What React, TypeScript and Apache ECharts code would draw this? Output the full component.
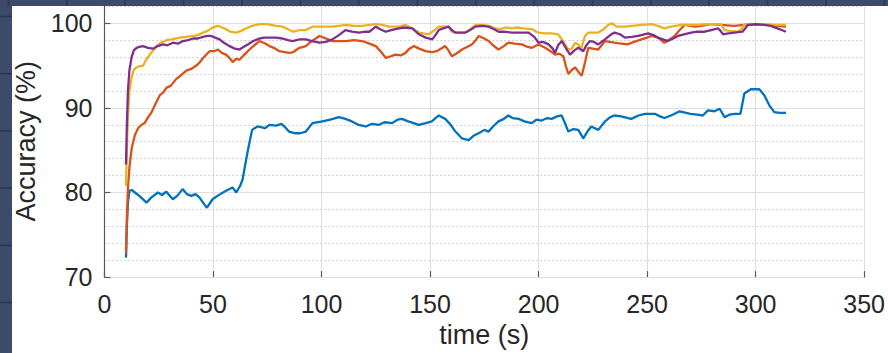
import React, { useEffect, useRef } from "react";
import * as echarts from "echarts";

// ---- data (time in s, accuracy in %) ----
const blueSeries: [number, number][] = [
  [9.9,72.3],[10.3,76],[10.8,78.8],[11.5,80.2],[12.5,80.3],[14,80],[16,79.6],[19.4,78.8],[21.5,79.4],[24.6,80.0],[26.5,79.7],[28.5,80.1],[31.5,79.2],[33.5,79.6],[36,80.4],[38,79.8],[40,79.6],[42,79.8],[43.8,79.4],[46,78.6],[47.2,78.2],[49.8,79.2],[52,79.6],[56,80.2],[59,80.6],[60.7,80.0],[62.5,80.8],[63.6,81.5],[65,83.5],[66,84.9],[68,87.4],[70.5,87.8],[74,87.6],[76,88.0],[79,87.9],[81.5,88.1],[82.9,87.8],[85,87.2],[88,87.0],[90,87.0],[92.8,87.2],[95.8,88.2],[100.4,88.4],[104,88.6],[108,88.9],[111,88.7],[114,88.4],[117,88.0],[120.4,87.8],[123,88.1],[126.5,88.0],[129,88.3],[132.5,88.2],[135,88.6],[137,88.7],[140,88.4],[144.8,88.0],[148,88.2],[150.8,88.4],[154,89.1],[157,88.7],[159.5,88.0],[161.7,87.2],[164.6,86.4],[167.8,86.2],[170,86.7],[172.4,87.0],[175,87.4],[177,87.2],[179,87.8],[181.5,88.4],[184,88.7],[186,89.1],[188,88.8],[190.8,88.7],[193.5,88.4],[196.8,88.2],[199,88.6],[201.4,88.5],[204,88.8],[206,88.7],[208.5,89.0],[210.6,89.1],[212,88.3],[213.7,87.2],[216,87.5],[218.3,87.4],[220.6,86.4],[222.5,87.2],[224.3,87.8],[227.5,87.4],[230.6,88.4],[233,88.9],[235,89.1],[238,89.0],[242.7,88.7],[246,89.1],[249,89.3],[253.5,89.3],[256,89.0],[258,88.8],[261,89.1],[265,89.6],[268,89.4],[270,89.3],[273,89.2],[275.7,89.1],[278,89.7],[281,89.6],[283.4,89.9],[285.7,88.9],[288,89.2],[290.3,89.3],[293,89.3],[294.8,91.7],[297.8,92.2],[301.7,92.2],[304,91.5],[306.3,90.3],[308.6,89.5],[311,89.4],[314,89.4]
];

const orangeSeries: [number, number][] = [
  [9.9,72.8],[10.3,77],[10.8,80.5],[11.5,83],[12.5,85.2],[14,86.8],[15.5,87.6],[17.1,88.0],[18.5,88.2],[20.1,88.9],[21.5,89.4],[23.2,90.3],[24.5,91.0],[25.5,91.5],[27,91.8],[28.6,92.4],[30.5,92.6],[33,93.4],[35,93.8],[37.7,94.4],[40,94.6],[42.3,95.0],[44,95.4],[45.4,95.9],[48.4,96.7],[50.5,96.7],[52.3,96.9],[54,96.5],[56,96.3],[58,95.8],[59.1,95.4],[60.5,95.8],[62.2,95.7],[64.5,96.3],[66.8,96.9],[69,97.4],[71.4,97.9],[74,97.6],[76,97.3],[78,97.1],[80.6,96.7],[83,96.6],[85.2,96.5],[87,96.6],[89.8,97.1],[92.8,97.3],[95,97.8],[99,98.5],[102,98.2],[105,97.9],[108,97.9],[111,97.9],[115,98.0],[118.7,97.9],[122,97.6],[125,97.3],[127.5,96.6],[129.6,95.9],[132,96.1],[134,96.3],[136.5,96.2],[138.7,96.5],[140.5,97.0],[142.6,97.3],[145,97.0],[148,96.7],[151,96.6],[153,96.7],[155,97.0],[157,97.3],[158.5,96.8],[160,96.1],[162,96.4],[164.7,96.9],[167,97.2],[169.3,97.5],[171,98.0],[172.4,98.5],[175,98.2],[177,97.9],[179,97.4],[181.5,96.9],[184,97.3],[186,97.7],[189,97.6],[192.3,97.5],[195,97.2],[196.9,97.1],[200,97.5],[203,97.1],[205.5,96.7],[207.6,96.3],[209.5,96.4],[211.4,96.1],[212.5,95.0],[213.7,94.0],[215,94.4],[216.8,94.8],[218.5,94.2],[219.9,93.8],[221.5,95.5],[222.9,97.1],[225,97.0],[227.5,96.9],[230.6,97.9],[235,97.7],[238,97.6],[241,97.5],[244,97.8],[247.4,98.1],[250,98.3],[252,98.5],[255,98.3],[258,97.7],[260.5,98.1],[262.7,98.5],[265,99.2],[267.3,99.8],[270,99.7],[271.9,99.6],[275,99.7],[279.5,99.9],[284,99.8],[290,99.7],[295,99.8],[300,99.8],[305,99.8],[310,99.7],[314,99.6]
];

const yellowSeries: [number, number][] = [
  [9.9,80.8],[10.3,85],[10.8,89],[11.5,92],[12.5,93.6],[13.5,94.5],[14.8,94.8],[16,94.9],[17.8,95.0],[19,95.6],[20.9,96.3],[22.5,96.8],[24,97.3],[26,97.7],[28.6,98.0],[31,98.1],[34.7,98.3],[37.5,98.4],[40.8,98.5],[43,98.6],[45.4,98.9],[47.5,99.1],[49.2,99.4],[51,99.6],[52.3,99.7],[54,99.5],[56,99.3],[58,99.0],[60.7,98.9],[63,99.1],[65.3,99.4],[68,99.7],[71.4,99.9],[75,99.9],[79,99.7],[82,99.6],[85.2,99.2],[87,99.0],[89.8,99.2],[92.8,99.2],[95.8,99.6],[100,99.6],[105,99.6],[108,99.7],[111,99.8],[115,99.7],[118.7,99.7],[122,99.8],[125,99.9],[128,99.8],[131,99.6],[135.7,99.6],[138.7,99.8],[141.7,99.4],[144.8,98.9],[147,98.8],[149.5,98.7],[152,99.2],[154,99.6],[156,99.6],[158.6,99.6],[160,99.0],[161.5,98.9],[164,98.9],[166.3,98.9],[168.5,99.3],[170.9,99.8],[174,99.8],[177,99.7],[180,99.4],[182,99.3],[185,99.5],[187.7,99.4],[190,99.5],[193,99.4],[197,99.3],[199,99.0],[200,98.9],[203,98.8],[206,98.8],[209,98.7],[210.7,98.1],[212.5,97.4],[213.7,96.9],[215.3,97.0],[216.8,97.7],[218.3,97.5],[219.5,96.9],[221.4,98.5],[222.9,98.9],[225,98.9],[227.5,98.9],[230,99.3],[232,99.8],[233.6,100.0],[236,99.6],[239.8,99.6],[243,99.7],[247.4,99.8],[252,99.9],[255,99.7],[258,99.4],[261,99.6],[265.7,99.8],[270,99.8],[273.4,99.8],[278,99.9],[284,99.9],[285.7,99.2],[288,99.1],[291.8,99.0],[293.5,99.3],[294.8,99.9],[300,99.9],[304,99.9],[309,99.8],[314,99.8]
];

const purpleSeries: [number, number][] = [
  [9.9,83.3],[10.3,88],[10.8,92],[11.5,94.5],[12.5,96],[13.5,96.8],[14.8,97.1],[16,97.2],[17.8,97.3],[20,97.1],[22.4,97.0],[24.5,97.3],[27,97.5],[29,97.4],[31.6,97.7],[34,97.6],[36.2,97.9],[38.5,98.0],[40.8,98.2],[43,98.2],[45.4,98.4],[47.5,98.5],[49.2,98.5],[51,98.3],[53,98.1],[55,97.7],[57.6,97.3],[60,97.0],[62.2,96.9],[64,97.2],[66,97.5],[68.5,97.9],[71.4,98.2],[73.5,98.3],[76,98.3],[79,98.3],[82,98.2],[84.5,98.0],[86.7,97.9],[89.8,98.1],[92.8,98.1],[95.5,97.9],[99,97.7],[102,97.8],[105,98.1],[108,98.6],[111,99.2],[114,99.0],[117.3,98.9],[120,99.0],[122,99.0],[125,99.6],[127,99.3],[129.6,99.0],[132,99.2],[135.7,99.4],[138,99.5],[141.8,99.4],[144.8,98.7],[148,98.3],[151,98.1],[152.5,98.6],[154,99.2],[156,99.4],[158.6,99.6],[160,99.2],[161.7,98.9],[164,98.9],[166.3,98.9],[168.5,99.2],[170.9,99.6],[174,99.7],[177,99.6],[179.5,99.3],[181.6,99.0],[184,99.0],[187.7,98.9],[191,98.9],[195.4,98.9],[198,98.4],[200,97.7],[202,97.8],[204.6,97.5],[206.5,97.0],[207.6,96.5],[209,97.4],[210.7,97.9],[212.5,97.1],[214.5,96.3],[216.5,96.8],[218.3,97.1],[220.6,96.7],[222,97.4],[223.7,97.9],[225.5,97.8],[227.5,97.5],[230.6,98.1],[233,98.6],[235,98.9],[237.5,98.7],[239.8,98.3],[243,98.4],[245.9,98.5],[250.5,98.8],[253,98.6],[255,98.3],[259.6,97.9],[262,98.2],[264.2,98.5],[267,98.7],[270.3,98.9],[273,99.0],[276.5,99.0],[279.5,99.2],[282.6,99.4],[283.5,99.2],[285,98.7],[287.5,98.8],[290.3,98.9],[294,99.0],[296.4,99.8],[300,99.9],[304,99.8],[307,99.7],[310,99.4],[312,99.2],[314,99.0]
];

const xTicks = [0, 50, 100, 150, 200, 250, 300, 350];
const yTicks = [70, 80, 90, 100];

const COLORS = ["#0072BD", "#D95319", "#EDB120", "#7E2F8E"];
const FONT = "Liberation Sans, Arial, Helvetica, sans-serif";
const TEXT = "#262626";
const AXIS = "#5a5a5a";
const PAGE_BG = "#3d4a6a";
const PAGE_LINE = "#2c3753";

export default function App() {
  const ref = useRef<HTMLDivElement>(null);

  useEffect(() => {
    if (!ref.current) return;
    const chart = echarts.init(ref.current, undefined, { renderer: "svg" });

    const yMin = yTicks[0];
    const yMax = 102.1; // plot extends above 100, cropped by the screenshot

    // decorative page frame (dark border strips around the white figure)
    const frame: any[] = [
      { type: "rect", shape: { x: 0, y: 0, width: 888, height: 6 }, style: { fill: PAGE_BG }, z: 100 },
      { type: "rect", shape: { x: 0, y: 0, width: 12, height: 353 }, style: { fill: PAGE_BG }, z: 100 },
    ];
    for (let x = 8.5; x < 888; x += 58.4) {
      frame.push({ type: "line", shape: { x1: x, y1: 0, x2: x, y2: 6 }, style: { stroke: PAGE_LINE, lineWidth: 1.5 }, z: 101 });
    }
    for (let y = 16.5; y < 353; y += 57.2) {
      frame.push({ type: "line", shape: { x1: 0, y1: y, x2: 12, y2: y }, style: { stroke: PAGE_LINE, lineWidth: 1.5 }, z: 101 });
    }

    const mk = (data: [number, number][], i: number) => ({
      type: "line",
      data,
      xAxisIndex: 0,
      yAxisIndex: 0,
      showSymbol: false,
      symbol: "none",
      lineStyle: { color: COLORS[i], width: 2.3 },
      itemStyle: { color: COLORS[i] },
      z: 3 + i,
    });

    chart.setOption({
      animation: false,
      backgroundColor: "#ffffff",
      grid: { left: 104.5, right: 21, top: 5.5, bottom: 72.5, containLabel: false },
      xAxis: {
        type: "value",
        min: xTicks[0],
        max: xTicks[xTicks.length - 1],
        interval: 50,
        name: "time (s)",
        nameLocation: "middle",
        nameGap: 41,
        nameTextStyle: { fontFamily: FONT, fontSize: 27, color: TEXT },
        axisLine: { show: true, onZero: false, lineStyle: { color: AXIS, width: 1.2 } },
        axisTick: { show: true, inside: true, length: 6, lineStyle: { color: AXIS, width: 1.2 } },
        axisLabel: { fontFamily: FONT, fontSize: 25, color: TEXT, margin: 14 },
        splitLine: { show: true, lineStyle: { color: "#dedede", width: 1 } },
      },
      yAxis: [
        {
          type: "value",
          min: yMin,
          max: yMax,
          interval: 10,
          name: "Accuracy (%)",
          nameLocation: "middle",
          nameGap: 60,
          nameRotate: 90,
          nameTextStyle: { fontFamily: FONT, fontSize: 27, color: TEXT },
          axisLine: { show: true, lineStyle: { color: AXIS, width: 1.2 } },
          axisTick: { show: true, inside: true, length: 6, lineStyle: { color: AXIS, width: 1.2 } },
          axisLabel: {
            fontFamily: FONT, fontSize: 25, color: TEXT, margin: 12, showMaxLabel: false,
            formatter: (v: number) => (yTicks.indexOf(v) >= 0 ? String(v) : ""),
          },
          splitLine: { show: true, lineStyle: { color: "#dedede", width: 1 } },
          z: 2,
        },
        {
          type: "value",
          position: "left",
          min: yMin,
          max: yMax,
          interval: 2,
          axisLine: { show: false },
          axisTick: { show: false },
          axisLabel: { show: false },
          splitLine: { show: true, lineStyle: { color: "#c4c4c4", width: 1, type: [1.5, 2.5] } },
          z: 1,
        },
      ],
      graphic: frame,
      series: [
        mk(blueSeries, 0),
        mk(orangeSeries, 1),
        mk(yellowSeries, 2),
        mk(purpleSeries, 3),
      ],
    });

    return () => chart.dispose();
  }, []);

  return (
    <div
      ref={ref}
      style={{ width: 888, height: 353, position: "absolute", left: 0, top: 0 }}
    />
  );
}
